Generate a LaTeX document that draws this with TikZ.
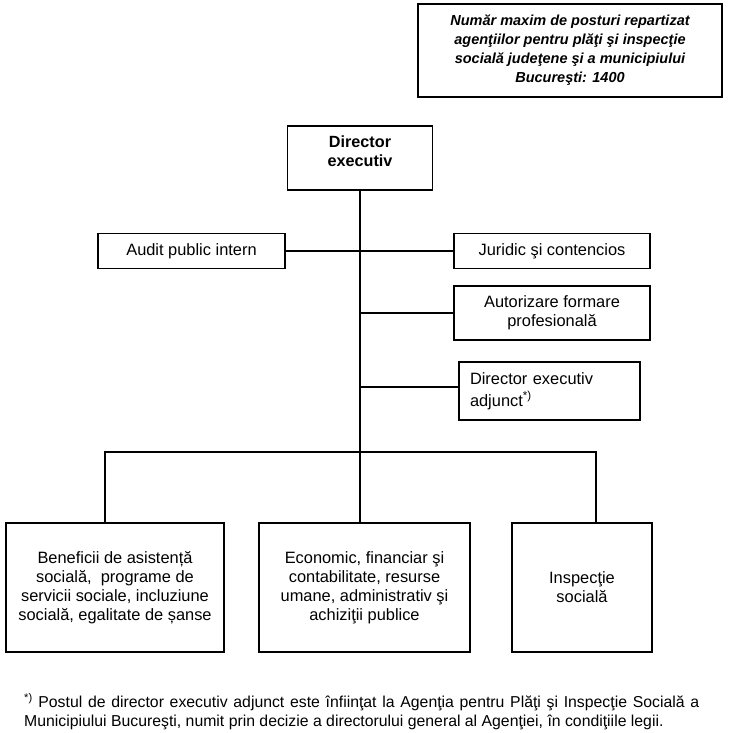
\documentclass[tikz,border=0pt]{standalone}
\usepackage{fontspec}
\setmainfont{Liberation Sans}
\begin{document}
\begin{tikzpicture}[x=1pt,y=-1pt,
  box/.style={draw=black, line width=1.1pt, inner sep=0pt, align=center,
    font=\fontsize{16.4}{19}\selectfont},
  conn/.style={draw=black, line width=1.1pt},
  fnote/.style={anchor=base west, inner sep=0pt, font=\fontsize{15.8}{19}\selectfont}]
\useasboundingbox[fill=white] (0,0) rectangle (728,733);

% top-right info box
\node[box, minimum width=304, minimum height=93,
  font=\fontsize{14.5}{19}\selectfont\bfseries\itshape] (info) at (570,50.5)
  {Număr maxim de posturi repartizat\\agenţiilor pentru plăţi şi inspecţie\\socială judeţene şi a municipiului\\Bucureşti: 1400};

% director
\node[box, minimum width=145, minimum height=64] (dir) at (360,158) {};
\node[inner sep=0pt, align=center, font=\fontsize{16.2}{19}\selectfont\bfseries]
  (dirtext) at ([yshift=6.5pt]dir.center) {Director\\executiv};

% side boxes
\node[box, minimum width=187, minimum height=35] (audit) at (191.5,251) {Audit public intern};
\node[box, minimum width=196, minimum height=35] (jur) at (552,251) {Juridic şi contencios};
\node[box, minimum width=196, minimum height=54] (aut) at (552,313) {Autorizare formare\\profesională};
\node[box, minimum width=181, minimum height=58, align=left, text width=159] (adj) at (549.5,391)
  {Director executiv\\[3pt]adjunct\textsuperscript{*)}};

% bottom boxes
\node[box, minimum width=218, minimum height=129] (ben) at (115,587.5)
  {Beneficii de asistență\\socială, \ programe de\\servicii sociale, incluziune\\socială, egalitate de șanse};
\node[box, minimum width=211, minimum height=129] (eco) at (364.5,587.5)
  {Economic, financiar şi\\contabilitate, resurse\\umane, administrativ şi\\achiziţii publice};
\node[box, minimum width=140, minimum height=129] (insp) at (582,587.5)
  {Inspecţie\\socială};

% connectors
\coordinate (hub) at (360,452);
\coordinate (bl) at (105,452);
\coordinate (br) at (596,452);
\draw[conn] (dir.south) -- (hub);
\draw[conn] (audit.east) -- (jur.west);
\draw[conn] (aut.west) -- (aut.west -| dir.south);
\draw[conn] ([yshift=4pt]adj.west) -- ([yshift=4pt]adj.west -| dir.south);
\draw[conn] (ben.north -| bl) -- (bl) -- (br) -- (insp.north -| br);
\draw[conn] (hub) -- (eco.north -| hub);

% footnote
\node[fnote] (fn1) at (24,707) {\makebox[675pt][s]{\textsuperscript{*)} Postul de director executiv adjunct este înfiinţat la Agenţia pentru Plăţi şi Inspecţie Socială a}};
\node[fnote] (fn2) at (24,726) {Municipiului Bucureşti, numit prin decizie a directorului general al Agenţiei, în condiţiile legii.};
\end{tikzpicture}
\end{document}
